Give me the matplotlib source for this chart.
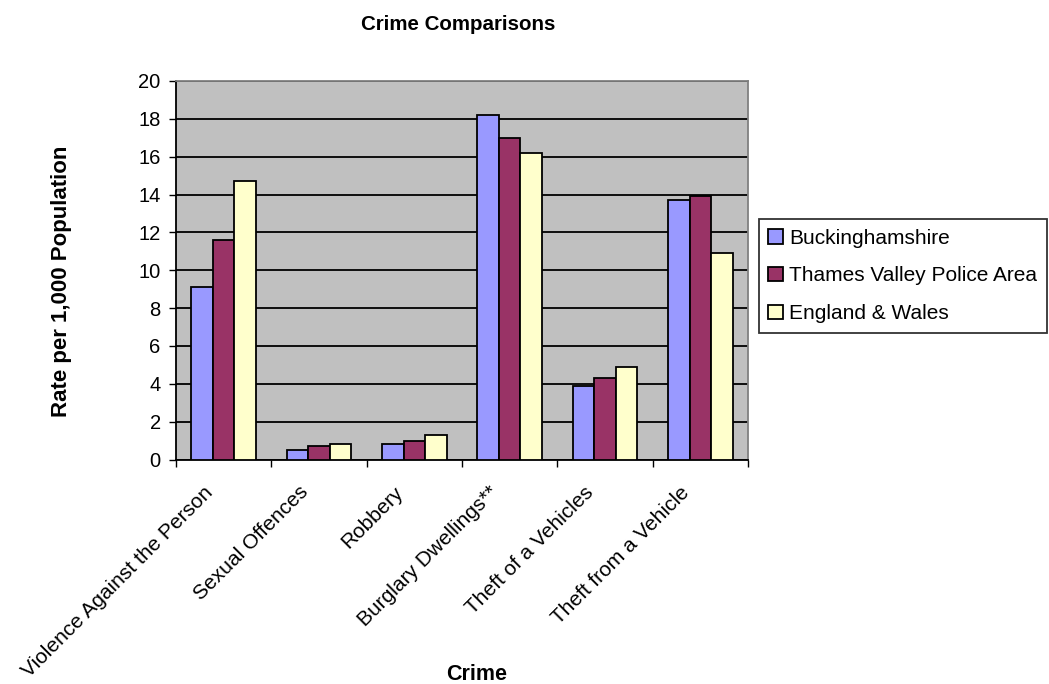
import matplotlib.pyplot as plt
import matplotlib.transforms as mtransforms
import numpy as np

plt.rcParams['font.family'] = ['Liberation Sans', 'DejaVu Sans']

# data
categories = ['Violence Against the Person', 'Sexual Offences', 'Robbery',
              'Burglary Dwellings**', 'Theft of a Vehicles', 'Theft from a Vehicle']
series_names = ['Buckinghamshire', 'Thames Valley Police Area', 'England & Wales']
bucks = [9.1, 0.5, 0.8, 18.2, 3.9, 13.7]
thames = [11.6, 0.7, 1.0, 17.0, 4.3, 13.9]
england = [14.7, 0.8, 1.3, 16.2, 4.9, 10.9]
colors = ['#9999FF', '#993366', '#FFFFCC']
y_ticks = [0, 2, 4, 6, 8, 10, 12, 14, 16, 18, 20]

fig = plt.figure(figsize=(10.49, 6.84), dpi=100)
fig.patch.set_facecolor('white')
ax = fig.add_axes([176 / 1049, 1 - 459.5 / 684, 572 / 1049, 378.5 / 684])
ax.set_facecolor('#C0C0C0')

x = np.arange(len(categories))
w = 0.225
for i, (vals, name) in enumerate(zip([bucks, thames, england], series_names)):
    ax.bar(x + (i - 1) * w, vals, w, color=colors[i], edgecolor='black',
           linewidth=1.3, label=name, zorder=3)

ax.set_xlim(-0.5, len(categories) - 0.5)
ax.set_ylim(0, 20)
ax.set_yticks(y_ticks)
ax.tick_params(axis='y', labelsize=14.5, length=5, width=1, direction='out', pad=6)
ax.yaxis.grid(True, color='black', linewidth=1.3, zorder=1)

# category ticks sit between groups
ax.set_xticks(np.arange(len(categories) + 1) - 0.5, minor=False)
ax.set_xticklabels([])
ax.tick_params(axis='x', length=5, width=1, direction='out')
ax.set_xticks(x, minor=True)
ax.set_xticklabels(categories, minor=True, rotation=45, ha='right', va='center',
                   rotation_mode='anchor', fontsize=15)
ax.tick_params(axis='x', which='minor', length=0, pad=20)
shift = mtransforms.ScaledTranslation(-14 / 100, -2 / 100, fig.dpi_scale_trans)
for lbl in ax.get_xticklabels(minor=True):
    lbl.set_transform(lbl.get_transform() + shift)

for side in ['top', 'right']:
    ax.spines[side].set_color('#808080')
    ax.spines[side].set_linewidth(1.3)
for side in ['left', 'bottom']:
    ax.spines[side].set_color('black')
    ax.spines[side].set_linewidth(1.3)

fig.text(62 / 1049, 1 - 281 / 684, 'Rate per 1,000 Population', rotation=90,
         ha='center', va='center', fontsize=16, fontweight='bold')
fig.text(477 / 1049, 1 - 675 / 684, 'Crime', ha='center', va='center',
         fontsize=15.5, fontweight='bold')
fig.text(458 / 1049, 1 - 25 / 684, 'Crime Comparisons', ha='center', va='center',
         fontsize=14.8, fontweight='bold')

leg = ax.legend(loc='center left', bbox_to_anchor=(759 / 1049, 1 - 276 / 684),
                bbox_transform=fig.transFigure, fontsize=15, frameon=True,
                fancybox=False, edgecolor='black', handlelength=0.7,
                handleheight=0.7, handletextpad=0.3, borderpad=0.45,
                labelspacing=0.9, borderaxespad=0)
leg.get_frame().set_linewidth(1.3)

fig.savefig('out.png', dpi=100, facecolor='white')
